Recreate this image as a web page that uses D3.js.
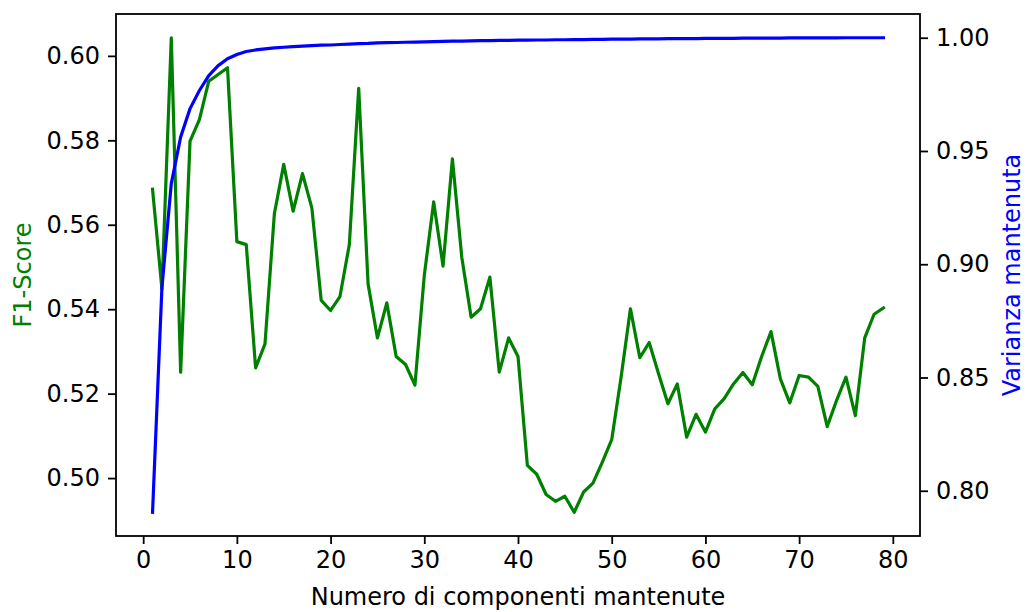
<!DOCTYPE html>
<html>
<head>
<meta charset="utf-8">
<script src="https://cdn.jsdelivr.net/npm/d3@7"></script>
<style>
  body { margin: 0; background: #fff; }
  svg { display: block; }
</style>
</head>
<body>
<div id="chart"></div>
<script>
// F1-score for each number of retained components (1..79)
const f1Score = [
  0.5684, 0.5448, 0.6043, 0.5251, 0.5798, 0.5849, 0.5940, 0.5956, 0.5972, 0.5560,
  0.5553, 0.5261, 0.5318, 0.5626, 0.5743, 0.5632, 0.5721, 0.5640, 0.5421, 0.5397,
  0.5430, 0.5553, 0.5923, 0.5460, 0.5332, 0.5415, 0.5288, 0.5269, 0.5220, 0.5480,
  0.5654, 0.5502, 0.5756, 0.5523, 0.5381, 0.5401, 0.5476, 0.5251, 0.5332, 0.5288,
  0.5030, 0.5009, 0.4961, 0.4945, 0.4957, 0.4919, 0.4967, 0.4988, 0.5038, 0.5091,
  0.5239, 0.5401, 0.5285, 0.5321, 0.5247, 0.5176, 0.5223, 0.5097, 0.5151, 0.5109,
  0.5164, 0.5188, 0.5223, 0.5250, 0.5221, 0.5288, 0.5347, 0.5235, 0.5178, 0.5243,
  0.5239, 0.5217, 0.5122, 0.5184, 0.5239, 0.5148, 0.5332, 0.5388, 0.5403
];

// cumulative explained variance
const variance = [
  0.7905, 0.8897, 0.9356, 0.9562, 0.9687, 0.9767, 0.9833, 0.9877, 0.9907, 0.9926,
  0.9939, 0.9946, 0.9951, 0.9955, 0.9958, 0.9961, 0.9963, 0.9965, 0.9967, 0.9968,
  0.9970, 0.9972, 0.9974, 0.9975, 0.9977, 0.9978, 0.9979, 0.9980, 0.9981, 0.9982,
  0.9983, 0.9984, 0.9985, 0.9985, 0.9986, 0.9987, 0.9987, 0.9988, 0.9988, 0.9989,
  0.9989, 0.9990, 0.9990, 0.9991, 0.9991, 0.9992, 0.9992, 0.9993, 0.9993, 0.9994,
  0.9994, 0.9994, 0.9995, 0.9995, 0.9995, 0.9996, 0.9996, 0.9996, 0.9996, 0.9997,
  0.9997, 0.9997, 0.9997, 0.9998, 0.9998, 0.9998, 0.9998, 0.9998, 0.9999, 0.9999,
  0.9999, 0.9999, 0.9999, 0.9999, 1.0000, 1.0000, 1.0000, 1.0000, 1.0000
];

const xTicks = [0, 10, 20, 30, 40, 50, 60, 70, 80];
const f1Ticks = [0.50, 0.52, 0.54, 0.56, 0.58, 0.60];
const varTicks = [0.80, 0.85, 0.90, 0.95, 1.00];

const width = 1026, height = 612;
const margin = {top: 14, right: 106, bottom: 76, left: 116};
const fontSize = 24;
const font = "DejaVu Sans, sans-serif";

const components = f1Score.map((d, i) => i + 1);

// matplotlib-style 5% padding around the data extent
function padded(ext) {
  const p = (ext[1] - ext[0]) * 0.05;
  return [ext[0] - p, ext[1] + p];
}

const x = d3.scaleLinear()
  .domain(padded(d3.extent(components)))
  .range([margin.left, width - margin.right]);
const yLeft = d3.scaleLinear()
  .domain(padded(d3.extent(f1Score)))
  .range([height - margin.bottom, margin.top]);
const yRight = d3.scaleLinear()
  .domain(padded(d3.extent(variance)))
  .range([height - margin.bottom, margin.top]);

const svg = d3.select("#chart").append("svg")
  .attr("width", width)
  .attr("height", height)
  .attr("font-family", font);

svg.append("rect").attr("width", width).attr("height", height).attr("fill", "#fff");

const fmt = d3.format(".2f");

function styleAxis(g) {
  g.select(".domain").remove();
  g.selectAll(".tick line").attr("stroke", "#000").attr("stroke-width", 1.8);
  g.selectAll(".tick text").attr("fill", "#000").attr("font-size", fontSize).attr("font-family", font);
}

// x axis
svg.append("g")
  .attr("transform", `translate(0,${height - margin.bottom})`)
  .call(d3.axisBottom(x).tickValues(xTicks).tickSize(8).tickPadding(7).tickFormat(d3.format("d")))
  .call(styleAxis);

// left y axis
svg.append("g")
  .attr("transform", `translate(${margin.left},0)`)
  .call(d3.axisLeft(yLeft).tickValues(f1Ticks).tickSize(8).tickPadding(8).tickFormat(fmt))
  .call(styleAxis);

// right y axis
svg.append("g")
  .attr("transform", `translate(${width - margin.right},0)`)
  .call(d3.axisRight(yRight).tickValues(varTicks).tickSize(8).tickPadding(8).tickFormat(fmt))
  .call(styleAxis);

// lines
const f1Line = d3.line()
  .x((d, i) => x(components[i]))
  .y(d => yLeft(d));
const varLine = d3.line()
  .x((d, i) => x(components[i]))
  .y(d => yRight(d));

svg.append("path")
  .datum(f1Score)
  .attr("fill", "none")
  .attr("stroke", "#008000")
  .attr("stroke-width", 3.2)
  .attr("stroke-linejoin", "round")
  .attr("stroke-linecap", "square")
  .attr("d", f1Line);

svg.append("path")
  .datum(variance)
  .attr("fill", "none")
  .attr("stroke", "#0000ff")
  .attr("stroke-width", 3.2)
  .attr("stroke-linejoin", "round")
  .attr("stroke-linecap", "square")
  .attr("d", varLine);

// frame
svg.append("rect")
  .attr("x", margin.left)
  .attr("y", margin.top)
  .attr("width", width - margin.left - margin.right)
  .attr("height", height - margin.top - margin.bottom)
  .attr("fill", "none")
  .attr("stroke", "#000")
  .attr("stroke-width", 1.8);

// axis labels
svg.append("text")
  .attr("x", (margin.left + width - margin.right) / 2)
  .attr("y", 605)
  .attr("text-anchor", "middle")
  .attr("font-size", fontSize)
  .attr("fill", "#000")
  .text("Numero di componenti mantenute");

const midY = (margin.top + height - margin.bottom) / 2;

svg.append("text")
  .attr("transform", `translate(31,${midY}) rotate(-90)`)
  .attr("text-anchor", "middle")
  .attr("font-size", fontSize)
  .attr("fill", "#008000")
  .text("F1-Score");

svg.append("text")
  .attr("transform", `translate(1020,${midY}) rotate(-90)`)
  .attr("text-anchor", "middle")
  .attr("font-size", fontSize)
  .attr("fill", "#0000ff")
  .text("Varianza mantenuta");
</script>
</body>
</html>
